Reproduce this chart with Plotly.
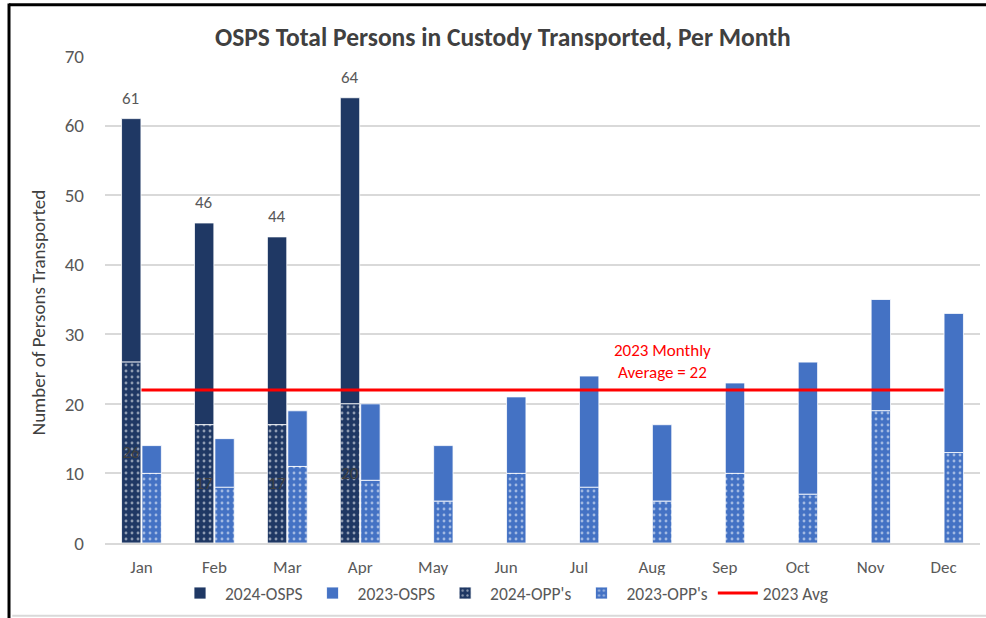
import plotly.graph_objects as go

months = ["Jan", "Feb", "Mar", "Apr", "May", "Jun", "Jul", "Aug", "Sep", "Oct", "Nov", "Dec"]
months_2024 = ["Jan", "Feb", "Mar", "Apr"]

opp_2024 = [26, 17, 17, 20]
osps_2024 = [35, 29, 27, 44]
total_2024 = [61, 46, 44, 64]

opp_2023 = [10, 8, 11, 9, 6, 10, 8, 6, 10, 7, 19, 13]
osps_2023 = [4, 7, 8, 11, 8, 11, 16, 11, 13, 19, 16, 20]
total_2023 = [14, 15, 19, 20, 14, 21, 24, 17, 23, 26, 35, 33]

avg_2023 = 22
avg_values = [avg_2023] * len(months)

NAVY = "#1f3864"
BLUE = "#4472c4"
FONT = "Carlito, Calibri, Lato, sans-serif"
GREY = "#595959"

fig = go.Figure()

line_white = dict(color="rgba(255,255,255,0.8)", width=1)

fig.add_trace(go.Bar(
    name="2024-OSPS", x=months_2024, y=osps_2024, base=opp_2024,
    offsetgroup="2024", marker=dict(color=NAVY, line=line_white),
    legendrank=1,
))
fig.add_trace(go.Bar(
    name="2023-OSPS", x=months, y=osps_2023, base=opp_2023,
    offsetgroup="2023", marker=dict(color=BLUE, line=line_white),
    legendrank=2,
))
fig.add_trace(go.Bar(
    name="2024-OPP's", x=months_2024, y=opp_2024,
    offsetgroup="2024",
    marker=dict(color=NAVY, line=line_white,
                pattern=dict(shape=".", fgcolor="white", bgcolor=NAVY,
                             size=6, solidity=0.18, fillmode="overlay")),
    text=[str(v) for v in opp_2024], textposition="inside",
    insidetextanchor="middle", constraintext="none",
    textfont=dict(color="#404040", size=17, family=FONT),
    legendrank=3,
))
fig.add_trace(go.Bar(
    name="2023-OPP's", x=months, y=opp_2023,
    offsetgroup="2023",
    marker=dict(color=BLUE, line=line_white,
                pattern=dict(shape=".", fgcolor="white", bgcolor=BLUE,
                             size=6, solidity=0.18, fillmode="overlay")),
    legendrank=4,
))
fig.add_trace(go.Scatter(
    name="2023 Avg", x=months, y=avg_values, mode="lines",
    line=dict(color="#ff0000", width=3), legendrank=5,
))

# total labels above 2024 bars
for m, t in zip(months_2024, total_2024):
    fig.add_annotation(x=m, y=t, xref="x", yref="y", xshift=-10.5, yshift=20,
                       text=str(t), showarrow=False, yanchor="middle",
                       font=dict(color=GREY, size=17, family=FONT))

fig.add_annotation(
    x="Aug", y=avg_2023, xref="x", yref="y", xshift=11, yshift=5,
    text="2023 Monthly<br>Average = 22", showarrow=False, yanchor="bottom",
    font=dict(color="#ff0000", size=17, family=FONT), align="center",
)

# y-axis title
fig.add_annotation(
    x=-0.0766, y=0.474, xref="paper", yref="paper", textangle=-90,
    text="Number of Persons Transported", showarrow=False,
    xanchor="center", yanchor="middle",
    font=dict(color="#404040", size=19, family=FONT),
)

# frame
fig.add_shape(type="line", xref="paper", yref="paper", x0=-0.1097, x1=1.01, y0=1.105, y1=1.105,
              line=dict(color="black", width=3))
fig.add_shape(type="line", xref="paper", yref="paper", x0=-0.1097, x1=-0.1097, y0=1.108, y1=-0.16,
              line=dict(color="black", width=3))
fig.add_shape(type="line", xref="paper", yref="paper", x0=-0.106, x1=1.01, y0=-0.1495, y1=-0.1495,
              line=dict(color="#d9d9d9", width=2))

fig.update_layout(
    width=986, height=618,
    margin=dict(l=105, r=6, t=56, b=75, autoexpand=False),
    paper_bgcolor="white", plot_bgcolor="white",
    barmode="group", bargap=0.44, bargroupgap=0.05,
    title=dict(text="<b>OSPS Total Persons in Custody Transported, Per Month</b>",
               x=0.51, xanchor="center", y=0.94, yanchor="middle",
               font=dict(size=25.5, color="#404040", family=FONT)),
    font=dict(family=FONT, color=GREY),
    legend=dict(orientation="h", x=0.456, xanchor="center", y=-0.103, yanchor="middle",
                font=dict(size=17.5, color=GREY, family=FONT), traceorder="normal",
                itemwidth=40),
    showlegend=True,
)
fig.update_xaxes(categoryorder="array", categoryarray=months,
                 tickfont=dict(size=17, color=GREY), showline=True,
                 linecolor="#d9d9d9", linewidth=2, ticks="", ticklabelstandoff=8)
fig.update_yaxes(range=[0, 70], dtick=10, gridcolor="#d9d9d9", gridwidth=2,
                 tickfont=dict(size=19, color=GREY), zeroline=False,
                 ticklabelstandoff=20)

fig.write_html("out.html", config={"displayModeBar": False},
               post_script="document.body.style.margin='0';")
